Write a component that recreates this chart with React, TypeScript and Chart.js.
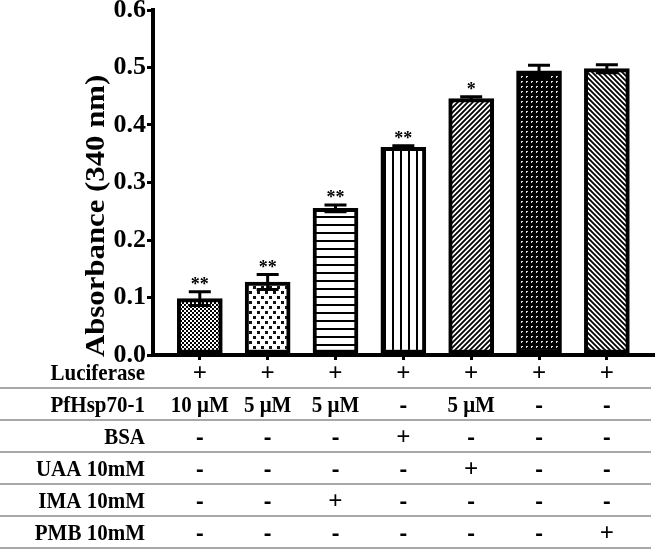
import React, { useEffect, useRef } from 'react';
import { Chart, registerables } from 'chart.js';

Chart.register(...registerables);

// ---- data ----
const groups = [0, 1, 2, 3, 4, 5, 6];
const absorbance = [0.098, 0.127, 0.255, 0.361, 0.446, 0.494, 0.498];
const sem = [0.012, 0.013, 0.006, 0.003, 0.003, 0.010, 0.007];
const significance = ['**', '**', '**', '**', '*', '', ''];
const yTickValues = [0, 0.1, 0.2, 0.3, 0.4, 0.5, 0.6];
const yTitle = 'Absorbance (340 nm)';

const rowLabels = ['Luciferase', 'PfHsp70-1', 'BSA', 'UAA 10mM', 'IMA 10mM', 'PMB 10mM'];
const luciferaseRow = ['+', '+', '+', '+', '+', '+', '+'];
const pfhspRow = ['10 μM', '5 μM', '5 μM', '-', '5 μM', '-', '-'];
const bsaRow = ['-', '-', '-', '+', '-', '-', '-'];
const uaaRow = ['-', '-', '-', '-', '+', '-', '-'];
const imaRow = ['-', '-', '+', '-', '-', '-', '-'];
const pmbRow = ['-', '-', '-', '-', '-', '-', '+'];
const tableRows = [luciferaseRow, pfhspRow, bsaRow, uaaRow, imaRow, pmbRow];

const SERIF = "'Liberation Serif', 'Times New Roman', Times, serif";

function makePattern(w: number, h: number, draw: (g: CanvasRenderingContext2D) => void) {
  const c = document.createElement('canvas');
  c.width = w;
  c.height = h;
  const g = c.getContext('2d') as CanvasRenderingContext2D;
  draw(g);
  return g.createPattern(c, 'repeat') as CanvasPattern;
}

function buildPatterns() {
  const checker = makePattern(4, 4, (g) => {
    g.fillStyle = '#fff';
    g.fillRect(0, 0, 4, 4);
    g.fillStyle = '#000';
    g.fillRect(0, 0, 2, 2);
    g.fillRect(2, 2, 2, 2);
  });
  const dots = makePattern(8, 10, (g) => {
    g.fillStyle = '#fff';
    g.fillRect(0, 0, 8, 10);
    g.fillStyle = '#111';
    g.fillRect(1, 1, 3, 3);
    g.fillRect(5, 6, 3, 3);
  });
  const hLines = makePattern(1, 8, (g) => {
    g.fillStyle = '#fff';
    g.fillRect(0, 0, 1, 8);
    g.fillStyle = '#000';
    g.fillRect(0, 0, 1, 2);
  });
  const vLines = makePattern(8, 1, (g) => {
    g.fillStyle = '#fff';
    g.fillRect(0, 0, 8, 1);
    g.fillStyle = '#000';
    g.fillRect(0, 0, 2, 1);
  });
  const diagUp = makePattern(5, 5, (g) => {
    g.fillStyle = '#fff';
    g.fillRect(0, 0, 5, 5);
    g.strokeStyle = '#000';
    g.lineWidth = 1.8;
    g.beginPath();
    g.moveTo(-1, 6); g.lineTo(6, -1);
    g.moveTo(-1, 1); g.lineTo(1, -1);
    g.moveTo(4, 6); g.lineTo(6, 4);
    g.stroke();
  });
  const darkDash = makePattern(5, 5, (g) => {
    g.fillStyle = '#000';
    g.fillRect(0, 0, 5, 5);
    g.fillStyle = '#ddd';
    g.fillRect(1, 1, 2, 1);
    g.fillRect(1, 2, 1, 1);
  });
  const diagDown = makePattern(5, 5, (g) => {
    g.fillStyle = '#fff';
    g.fillRect(0, 0, 5, 5);
    g.strokeStyle = '#000';
    g.lineWidth = 1.8;
    g.beginPath();
    g.moveTo(-1, -1); g.lineTo(6, 6);
    g.moveTo(4, -1); g.lineTo(6, 1);
    g.moveTo(-1, 4); g.lineTo(1, 6);
    g.stroke();
  });
  return [checker, dots, hLines, vLines, diagUp, darkDash, diagDown];
}

function fillStretched(ctx: CanvasRenderingContext2D, text: string, x: number, y: number, sy: number) {
  ctx.save();
  ctx.translate(x, y);
  ctx.scale(1, sy);
  ctx.fillText(text, 0, 0);
  ctx.restore();
}

const annotationPlugin = {
  id: 'annotations',
  afterDatasetsDraw(chart: any) {
    const { ctx, scales } = chart;
    const xs = scales.x;
    const ys = scales.y;
    ctx.save();
    ctx.strokeStyle = '#000';
    ctx.lineWidth = 3;
    groups.forEach((g, i) => {
      const x = xs.getPixelForValue(g);
      const yHi = ys.getPixelForValue(absorbance[i] + sem[i]);
      const yLo = ys.getPixelForValue(absorbance[i] - sem[i]);
      const half = 11;
      ctx.beginPath();
      ctx.moveTo(x, yLo);
      ctx.lineTo(x, yHi);
      ctx.moveTo(x - half, yHi);
      ctx.lineTo(x + half, yHi);
      ctx.moveTo(x - half, yLo);
      ctx.lineTo(x + half, yLo);
      ctx.stroke();
      if (significance[i]) {
        ctx.fillStyle = '#000';
        ctx.font = `bold 18px ${SERIF}`;
        ctx.textAlign = 'center';
        ctx.textBaseline = 'alphabetic';
        ctx.fillText(significance[i], x, yHi - 2);
      }
    });
    ctx.restore();
  },
  afterDraw(chart: any) {
    const { ctx, scales, chartArea } = chart;
    const xs = scales.x;
    const base = chartArea.bottom;
    ctx.save();
    // y-axis title (slightly stretched along its length like the original)
    ctx.save();
    ctx.translate(97, chartArea.bottom + 2);
    ctx.rotate(-Math.PI / 2);
    ctx.scale(1.14, 1);
    ctx.fillStyle = '#000';
    ctx.font = `bold 27px ${SERIF}`;
    ctx.textAlign = 'left';
    ctx.textBaseline = 'middle';
    ctx.fillText(yTitle, 0, 0);
    ctx.restore();

    // table separators
    ctx.strokeStyle = '#8a8a8a';
    ctx.lineWidth = 1.5;
    for (let k = 0; k < rowLabels.length; k++) {
      const y = base + 33 + 32 * k;
      ctx.beginPath();
      ctx.moveTo(0, y);
      ctx.lineTo(chartArea.right - 2, y);
      ctx.stroke();
    }
    ctx.fillStyle = '#000';
    ctx.textBaseline = 'middle';
    const sy = 1.13;
    rowLabels.forEach((label, r) => {
      const y = base + 19 + 32 * r;
      ctx.font = `bold 21px ${SERIF}`;
      ctx.textAlign = 'right';
      fillStretched(ctx, label, 145, y, sy);
      ctx.textAlign = 'center';
      tableRows[r].forEach((cell, i) => {
        const x = xs.getPixelForValue(groups[i]);
        if (cell === '+') {
          ctx.font = `bold 25px ${SERIF}`;
          fillStretched(ctx, cell, x, y, 1.05);
        } else if (cell === '-') {
          ctx.font = `bold 23px ${SERIF}`;
          fillStretched(ctx, cell, x, y, 1.3);
        } else {
          ctx.font = `bold 21px ${SERIF}`;
          fillStretched(ctx, cell, x, y, sy);
        }
      });
    });
    ctx.restore();
  },
};

export default function App() {
  const canvasRef = useRef<HTMLCanvasElement | null>(null);

  useEffect(() => {
    const canvas = canvasRef.current;
    if (!canvas) return;
    const patterns = buildPatterns();
    const chart = new Chart(canvas, {
      type: 'bar',
      data: {
        datasets: [
          {
            data: groups.map((g, i) => ({ x: g, y: absorbance[i] })),
            backgroundColor: patterns as any,
            borderColor: '#000',
            borderWidth: 4,
            borderSkipped: false,
            barThickness: 45,
          },
        ],
      },
      options: {
        animation: false,
        responsive: false,
        layout: { padding: { top: 10, right: 4, left: 0, bottom: 0 } },
        plugins: { legend: { display: false }, tooltip: { enabled: false } },
        scales: {
          x: {
            type: 'linear',
            offset: false,
            min: -0.69,
            max: 6.68,
            afterBuildTicks: (s: any) => {
              s.ticks = groups.map((v) => ({ value: v }));
            },
            afterFit: (s: any) => {
              s.height = 196;
              s.paddingLeft = 0;
              s.paddingRight = 0;
            },
            ticks: { display: false },
            grid: {
              display: true,
              offset: false,
              drawOnChartArea: false,
              drawTicks: true,
              tickLength: 5,
              lineWidth: 3,
              color: '#000',
            },
            border: { display: true, width: 4, color: '#000' },
          },
          y: {
            type: 'linear',
            min: 0,
            max: 0.6,
            afterBuildTicks: (s: any) => {
              s.ticks = yTickValues.map((v) => ({ value: v }));
            },
            afterFit: (s: any) => {
              s.width = 153;
              s.paddingTop = 0;
              s.paddingBottom = 0;
            },
            ticks: {
              color: '#000',
              padding: 1,
              font: { family: SERIF, size: 26, weight: 'bold' },
              callback: (v: any) => Number(v).toFixed(1),
            },
            grid: {
              display: true,
              drawOnChartArea: false,
              drawTicks: true,
              tickLength: 6,
              lineWidth: 3,
              color: '#000',
            },
            border: { display: true, width: 4, color: '#000' },
            title: { display: false },
          },
        },
      },
      plugins: [annotationPlugin],
    } as any);
    return () => chart.destroy();
  }, []);

  return (
    <div style={{ position: 'absolute', left: 0, top: 0, width: 657, height: 551, background: '#fff' }}>
      <canvas ref={canvasRef} width={657} height={551} style={{ display: 'block' }} />
    </div>
  );
}
